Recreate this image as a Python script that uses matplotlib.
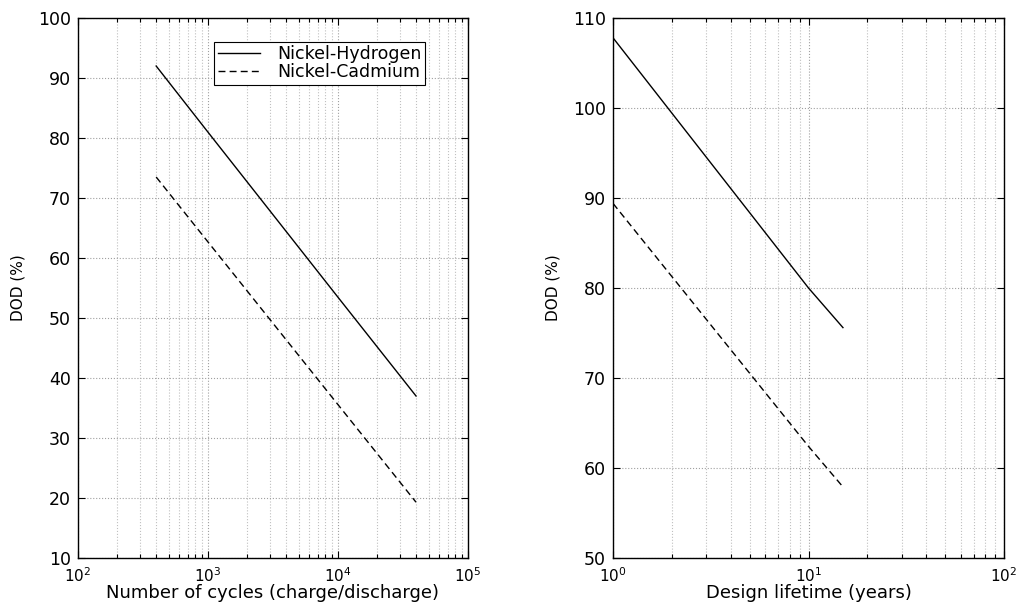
import matplotlib
matplotlib.use("Agg")
import matplotlib.pyplot as plt
from matplotlib.ticker import LogLocator, MultipleLocator, NullFormatter

plt.rcParams['font.family'] = ['DejaVu Sans']
plt.rcParams['mathtext.fontset'] = 'dejavusans'

# DOD versus number of charge/discharge cycles
cycles = [400, 1000, 10000, 40000]
nih_cycles_dod = [92.0, 81.0, 53.5, 37.0]
nicd_cycles_dod = [73.5, 62.7, 35.6, 19.3]

# DOD versus design lifetime
years = [1, 10, 15]
nih_years_dod = [107.8, 80.0, 75.6]
nicd_years_dod = [89.4, 62.4, 57.9]

series_names = ["Nickel-Hydrogen", "Nickel-Cadmium"]

fig = plt.figure(figsize=(10.19, 6.05), dpi=100)
ax1 = fig.add_axes([0.0765, 0.0777, 0.3825, 0.8925])
ax2 = fig.add_axes([0.6016, 0.0777, 0.3837, 0.8925])


def style_axis(ax):
    ax.set_xscale('log')
    ax.xaxis.set_minor_locator(LogLocator(base=10, subs=range(2, 10)))
    ax.xaxis.set_minor_formatter(NullFormatter())
    ax.yaxis.set_major_locator(MultipleLocator(10))
    ax.grid(True, which='major', linestyle=':', color='#a0a0a0', linewidth=0.8)
    ax.grid(True, which='minor', axis='x', linestyle=':', color='#c0c0c0', linewidth=0.8)
    ax.tick_params(which='both', direction='in', top=True, right=True, width=0.8)
    ax.tick_params(which='major', length=5)
    ax.tick_params(which='minor', length=3)
    ax.tick_params(axis='y', which='major', labelsize=12.5, pad=5)
    ax.tick_params(axis='x', which='major', labelsize=11, pad=6)
    for sp in ax.spines.values():
        sp.set_linewidth(1.0)


ax1.plot(cycles, nih_cycles_dod, color='black', linewidth=1.0, linestyle='-',
         label=series_names[0])
ax1.plot(cycles, nicd_cycles_dod, color='black', linewidth=1.0, linestyle=(0, (5, 3)),
         label=series_names[1])
style_axis(ax1)
ax1.set_xlim(1e2, 1e5)
ax1.set_ylim(10, 100)
ax1.set_xlabel("Number of cycles (charge/discharge)", fontsize=13, labelpad=-1)
ax1.set_ylabel("DOD (%)", fontsize=11, labelpad=9)
leg = ax1.legend(loc='upper right', bbox_to_anchor=(0.89, 0.956), borderaxespad=0,
                 fontsize=12.5, fancybox=False, edgecolor='black', framealpha=1,
                 handlelength=2.4, borderpad=0.2, labelspacing=0.0,
                 handletextpad=1.0)
leg.get_frame().set_linewidth(0.8)

ax2.plot(years, nih_years_dod, color='black', linewidth=1.0, linestyle='-')
ax2.plot(years, nicd_years_dod, color='black', linewidth=1.0, linestyle=(0, (5, 3)))
style_axis(ax2)
ax2.set_xlim(1, 100)
ax2.set_ylim(50, 110)
ax2.set_xlabel("Design lifetime (years)", fontsize=13, labelpad=-1)
ax2.set_ylabel("DOD (%)", fontsize=11, labelpad=9)

fig.savefig("out.png", dpi=100)
